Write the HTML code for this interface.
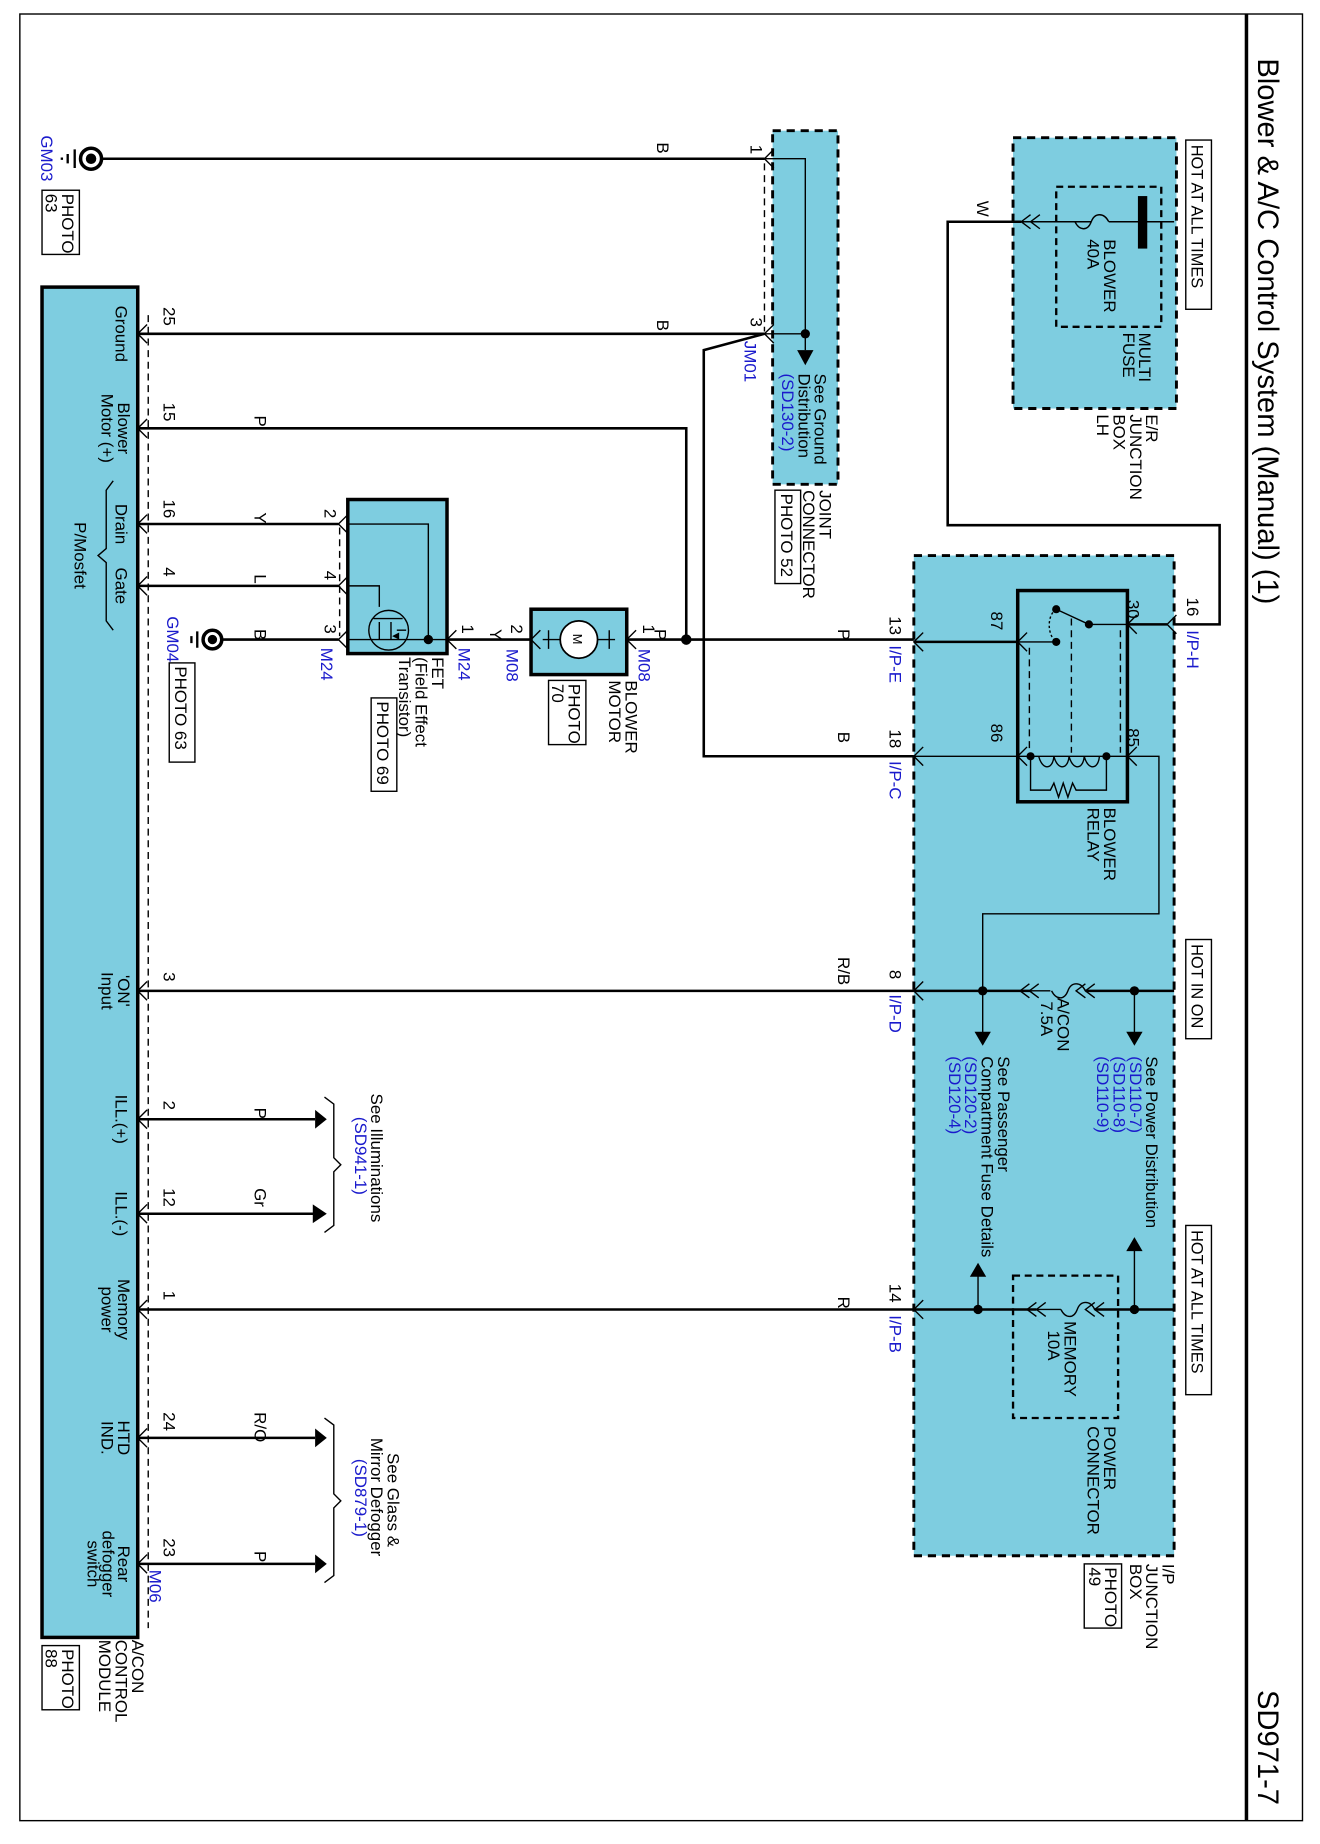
<!DOCTYPE html>
<html><head><meta charset="utf-8"><style>
html,body{margin:0;padding:0;background:#fff;}
svg{display:block;}
text{font-family:"Liberation Sans",sans-serif;font-size:14.5px;fill:#000;}
.b{fill:#1a1acc;}
.w{stroke:#000;stroke-width:2.2;fill:none;}
.t{stroke:#000;stroke-width:1.2;fill:none;}
.d{stroke:#000;stroke-width:1.2;fill:none;stroke-dasharray:6,4;}
.db{stroke:#000;stroke-width:2.5;fill:#7ecde0;stroke-dasharray:7,5;}
.box{stroke:#000;stroke-width:3;fill:#7ecde0;}
</style></head><body>
<svg width="1320" height="1844" viewBox="0 0 1131 1580" xmlns="http://www.w3.org/2000/svg">
<rect x="17" y="12" width="1099" height="1548" fill="none" stroke="#000" stroke-width="1.2"/>
<line x1="1068" y1="12" x2="1068" y2="1560" stroke="#000" stroke-width="3"/>
<text transform="translate(1078,50) rotate(90)" style="font-size:25px">Blower &amp; A/C Control System (Manual) (1)</text>
<text transform="translate(1078,1448) rotate(90)" style="font-size:25px">SD971-7</text>

<!-- E/R junction box -->
<rect class="db" x="868" y="118" width="140" height="232"/>
<rect x="905" y="160" width="90" height="120" fill="none" stroke="#000" stroke-width="2" stroke-dasharray="6,4"/>
<rect x="975" y="168" width="8" height="45" fill="#000"/>
<path class="t" d="M1006,190 H950 M935,190 H875"/>
<path class="t" d="M950,190 c-4,-8 -12,-8 -15,0 c-3,8 -10,8 -14,0"/>
<path class="t" d="M883,184 L875,190 L883,196 M891,184 L883,190 L891,196"/>
<path class="w" d="M875,190 H812 V450 H1045 V535 H1000"/>
<text transform="translate(837,172) rotate(90)">W</text>
<text transform="translate(946,205) rotate(90)">BLOWER</text>
<text transform="translate(932,205) rotate(90)">40A</text>
<text transform="translate(976,285) rotate(90)">MULTI</text>
<text transform="translate(962,285) rotate(90)">FUSE</text>
<text transform="translate(982,355) rotate(90)">E/R</text>
<text transform="translate(968,355) rotate(90)">JUNCTION</text>
<text transform="translate(954,355) rotate(90)">BOX</text>
<text transform="translate(940,355) rotate(90)">LH</text>
<rect x="1016" y="120" width="22" height="145" fill="#fff" stroke="#000" stroke-width="1.2"/>
<text transform="translate(1021,124) rotate(90)" style="font-size:14px">HOT AT ALL TIMES</text>

<!-- I/P junction box -->
<rect class="db" x="783" y="476" width="223" height="857"/>
<rect x="872" y="506" width="94" height="181" fill="none" stroke="#000" stroke-width="3"/>
<path class="w" d="M1000,535 H966"/>
<path class="t" d="M966,535 H933 L905,522 M872,550 H905"/>
<circle cx="933" cy="535" r="3.5"/><circle cx="905" cy="522" r="3.5"/><circle cx="905" cy="550" r="3.5"/>
<path class="t" d="M905,522 c-8,5 -8,22 0,28" stroke-dasharray="2,2"/>
<path class="d" d="M918,530 V645 M960,540 V645 M882,555 V645"/>
<path class="t" d="M872,648 H966 M883,648 V677 H900 l3,-6 4,12 4,-12 4,12 4,-12 3,6 H948 V648"/>
<path class="t" d="M890,648 c3,12 12,12 13,0 c3,12 12,12 13,0 c3,12 12,12 13,0 c3,12 12,12 13,0"/>
<circle cx="883" cy="648" r="3.5"/><circle cx="948" cy="648" r="3.5"/>
<path class="t" d="M966,648 H993 V783 H842 V849"/>
<text transform="translate(966,514) rotate(90)">30</text>
<text transform="translate(849,524) rotate(90)">87</text>
<text transform="translate(849,620) rotate(90)">86</text>
<text transform="translate(966,624) rotate(90)">85</text>
<text transform="translate(946,692) rotate(90)">BLOWER</text>
<text transform="translate(932,692) rotate(90)">RELAY</text>
<text transform="translate(1017,512) rotate(90)">16</text>
<text class="b" transform="translate(1017,540) rotate(90)">I/P-H</text>
<path class="t" d="M1008,527 L1000,535 L1008,543 M974,527 L966,535 L974,543 M880,542 L872,550 L880,558 M880,640 L872,648 L880,656 M974,640 L966,648 L974,656"/>
<path class="t" d="M791,542 L783,550 L791,558 M791,640 L783,648 L791,656 M791,841 L783,849 L791,857 M791,1114 L783,1122 L791,1130"/>
<path class="w" d="M783,550 H872"/>
<path class="t" d="M783,648 H872"/>
<text transform="translate(762,528) rotate(90)">13</text><text class="b" transform="translate(762,553) rotate(90)">I/P-E</text>
<text transform="translate(762,625) rotate(90)">18</text><text class="b" transform="translate(762,652) rotate(90)">I/P-C</text>
<text transform="translate(762,831) rotate(90)">8</text><text class="b" transform="translate(762,852) rotate(90)">I/P-D</text>
<text transform="translate(762,1100) rotate(90)">14</text><text class="b" transform="translate(762,1127) rotate(90)">I/P-B</text>

<!-- A/CON fuse row -->
<path class="w" d="M1006,849 H930 M883,849 H783"/>
<path class="t" d="M930,849 c-4,-8 -12,-8 -15,0 c-3,8 -10,8 -14,0 M900,849 H883"/>
<path class="t" d="M938,843 L930,849 L938,855 M930,843 L922,849 L930,855 M890,843 L882,849 L890,855 M882,843 L874,849 L882,855"/>
<circle cx="972" cy="849" r="4"/><circle cx="842" cy="849" r="4"/>
<path class="t" d="M972,849 V885 M842,849 V885"/>
<path d="M965,884 L979,884 L972,896 Z M835,884 L849,884 L842,896 Z"/>
<text transform="translate(906,855) rotate(90)">A/CON</text>
<text transform="translate(892,858) rotate(90)">7.5A</text>
<rect x="1016" y="805" width="22" height="85" fill="#fff" stroke="#000" stroke-width="1.2"/>
<text transform="translate(1021,809) rotate(90)" style="font-size:14px">HOT IN ON</text>
<text transform="translate(982,905) rotate(90)">See Power Distribution</text>
<text class="b" transform="translate(968,905) rotate(90)">(SD110-7)</text>
<text class="b" transform="translate(954,905) rotate(90)">(SD110-8)</text>
<text class="b" transform="translate(940,905) rotate(90)">(SD110-9)</text>
<text transform="translate(855,905) rotate(90)">See Passenger</text>
<text transform="translate(841,905) rotate(90)">Compartment Fuse Details</text>
<text class="b" transform="translate(827,905) rotate(90)">(SD120-2)</text>
<text class="b" transform="translate(813,905) rotate(90)">(SD120-4)</text>

<!-- Memory fuse row -->
<rect x="868" y="1093" width="90" height="122" fill="none" stroke="#000" stroke-width="2" stroke-dasharray="6,4"/>
<path class="w" d="M1006,1122 H938 M888,1122 H783"/>
<path class="t" d="M938,1122 c-4,-8 -12,-8 -15,0 c-3,8 -10,8 -14,0 M909,1122 H888"/>
<path class="t" d="M946,1116 L938,1122 L946,1128 M938,1116 L930,1122 L938,1128 M896,1116 L888,1122 L896,1128 M888,1116 L880,1122 L888,1128"/>
<circle cx="972" cy="1122" r="4"/><circle cx="838" cy="1122" r="4"/>
<path class="t" d="M972,1122 V1070 M838,1122 V1092"/>
<path d="M965,1072 L979,1072 L972,1060 Z M831,1094 L845,1094 L838,1082 Z"/>
<text transform="translate(912,1132) rotate(90)">MEMORY</text>
<text transform="translate(898,1140) rotate(90)">10A</text>
<rect x="1016" y="1050" width="22" height="145" fill="#fff" stroke="#000" stroke-width="1.2"/>
<text transform="translate(1021,1054) rotate(90)" style="font-size:14px">HOT AT ALL TIMES</text>
<text transform="translate(946,1222) rotate(90)">POWER</text>
<text transform="translate(932,1222) rotate(90)">CONNECTOR</text>
<text transform="translate(996,1340) rotate(90)">I/P</text>
<text transform="translate(982,1340) rotate(90)">JUNCTION</text>
<text transform="translate(968,1340) rotate(90)">BOX</text>
<rect x="929" y="1340" width="32" height="55" fill="#fff" stroke="#000" stroke-width="1.2"/>
<text transform="translate(947,1343) rotate(90)">PHOTO</text>
<text transform="translate(933,1343) rotate(90)">49</text>

<!-- Joint connector -->
<rect class="db" x="662" y="112" width="56" height="303"/>
<path class="t" d="M655,136 H690 V300 M655,286 H690"/>
<path d="M683,300 L697,300 L690,313 Z"/>
<circle cx="690" cy="286" r="4"/>
<path class="d" d="M655,140 V284"/>
<path class="t" d="M663,128 L655,136 L663,144 M663,278 L655,286 L663,294"/>
<text transform="translate(643,124) rotate(90)">1</text>
<text transform="translate(643,272) rotate(90)">3</text>
<text class="b" transform="translate(638,292) rotate(90)">JM01</text>
<text transform="translate(698,320) rotate(90)">See Ground</text>
<text transform="translate(684,320) rotate(90)">Distribution</text>
<text class="b" transform="translate(670,320) rotate(90)">(SD130-2)</text>
<text transform="translate(702,420) rotate(90)">JOINT</text>
<text transform="translate(688,420) rotate(90)">CONNECTOR</text>
<rect x="664" y="420" width="22" height="80" fill="#fff" stroke="#000" stroke-width="1.2"/>
<text transform="translate(669,423) rotate(90)">PHOTO 52</text>

<!-- GM03 -->
<path class="w" d="M88,136 H655"/>
<circle cx="78" cy="136" r="9" fill="#fff" stroke="#000" stroke-width="3"/><circle cx="78" cy="136" r="4.5"/>
<path stroke="#000" stroke-width="2" d="M64,128 V144 M58,132 V140 M53,135 V137"/>
<text transform="translate(563,122) rotate(90)">B</text>
<text class="b" transform="translate(35,116) rotate(90)">GM03</text>
<rect x="36" y="163" width="32" height="55" fill="#fff" stroke="#000" stroke-width="1.2"/>
<text transform="translate(53,166) rotate(90)">PHOTO</text>
<text transform="translate(39,166) rotate(90)">63</text>

<!-- Module -->
<rect class="box" x="36" y="246" width="82" height="1157"/>
<path class="d" d="M127,270 V1395"/>
<path class="t" d="M126,278 L118,286 L126,294 M126,359 L118,367 L126,375 M126,441 L118,449 L126,457 M126,494 L118,502 L126,510 M126,841 L118,849 L126,857 M126,951 L118,959 L126,967 M126,1032 L118,1040 L126,1048 M126,1114 L118,1122 L126,1130 M126,1224 L118,1232 L126,1240 M126,1332 L118,1340 L126,1348"/>
<path class="w" d="M118,286 H655 L603,300 V648 H783"/>
<path class="w" d="M118,367 H588 V550"/>
<path class="w" d="M118,449 H290 M118,502 H290 M118,849 H783 M118,959 H270 M118,1040 H270 M118,1122 H783 M118,1232 H270 M118,1340 H270"/>
<path d="M270,951 L270,967 L280,959 Z M270,1224 L270,1240 L280,1232 Z M270,1332 L270,1348 L280,1340 Z M268,1032 L268,1048 L280,1040 Z"/>
<text transform="translate(140,263) rotate(90)">25</text>
<text transform="translate(140,345) rotate(90)">15</text>
<text transform="translate(140,428) rotate(90)">16</text>
<text transform="translate(140,486) rotate(90)">4</text>
<text transform="translate(140,833) rotate(90)">3</text>
<text transform="translate(140,943) rotate(90)">2</text>
<text transform="translate(140,1018) rotate(90)">12</text>
<text transform="translate(140,1106) rotate(90)">1</text>
<text transform="translate(140,1210) rotate(90)">24</text>
<text transform="translate(140,1318) rotate(90)">23</text>
<text class="b" transform="translate(128,1345) rotate(90)">M06</text>
<text transform="translate(563,274) rotate(90)">B</text>
<text transform="translate(218,356) rotate(90)">P</text>
<text transform="translate(218,439) rotate(90)">Y</text>
<text transform="translate(218,492) rotate(90)">L</text>
<text transform="translate(218,539) rotate(90)">B</text>
<text transform="translate(718,539) rotate(90)">P</text>
<text transform="translate(718,627) rotate(90)">B</text>
<text transform="translate(718,820) rotate(90)">R/B</text>
<text transform="translate(218,949) rotate(90)">P</text>
<text transform="translate(218,1018) rotate(90)">Gr</text>
<text transform="translate(718,1111) rotate(90)">R</text>
<text transform="translate(218,1210) rotate(90)">R/O</text>
<text transform="translate(218,1329) rotate(90)">P</text>
<g text-anchor="middle">
<text transform="translate(99,286) rotate(90)">Ground</text>
<text transform="translate(101,367) rotate(90)">Blower</text>
<text transform="translate(87,367) rotate(90)">Motor (+)</text>
<text transform="translate(99,449) rotate(90)">Drain</text>
<text transform="translate(99,502) rotate(90)">Gate</text>
<text transform="translate(64,476) rotate(90)">P/Mosfet</text>
<text transform="translate(101,849) rotate(90)">'ON'</text>
<text transform="translate(87,849) rotate(90)">Input</text>
<text transform="translate(99,959) rotate(90)">ILL.(+)</text>
<text transform="translate(99,1040) rotate(90)">ILL.(-)</text>
<text transform="translate(101,1122) rotate(90)">Memory</text>
<text transform="translate(87,1122) rotate(90)">power</text>
<text transform="translate(101,1232) rotate(90)">HTD</text>
<text transform="translate(87,1232) rotate(90)">IND.</text>
<text transform="translate(101,1340) rotate(90)">Rear</text>
<text transform="translate(88,1340) rotate(90)">defogger</text>
<text transform="translate(75,1340) rotate(90)">switch</text>
</g>
<path class="t" d="M97,412 L91,420 V470 L84,476 L91,482 V532 L97,540"/>
<text transform="translate(113,1405) rotate(90)">A/CON</text>
<text transform="translate(99,1405) rotate(90)">CONTROL</text>
<text transform="translate(85,1405) rotate(90)">MODULE</text>
<rect x="36" y="1410" width="32" height="55" fill="#fff" stroke="#000" stroke-width="1.2"/>
<text transform="translate(53,1413) rotate(90)">PHOTO</text>
<text transform="translate(39,1413) rotate(90)">88</text>

<!-- refs -->
<path class="t" d="M278,940 L286,946 V992 L292,998 L286,1004 V1050 L278,1056"/>
<text transform="translate(318,937) rotate(90)">See Illuminations</text>
<text class="b" transform="translate(304,957) rotate(90)">(SD941-1)</text>
<path class="t" d="M278,1215 L286,1221 V1280 L292,1286 L286,1292 V1350 L278,1356"/>
<text transform="translate(332,1245) rotate(90)">See Glass &amp;</text>
<text transform="translate(318,1232) rotate(90)">Mirror Defogger</text>
<text class="b" transform="translate(304,1250) rotate(90)">(SD879-1)</text>

<!-- FET -->
<rect class="box" x="298" y="428" width="85" height="132"/>
<path class="d" d="M291,452 V545"/>
<path class="t" d="M298,441 L290,449 L298,457 M298,494 L290,502 L298,510 M298,540 L290,548 L298,556 M391,540 L383,548 L391,556"/>
<path class="t" d="M298,449 H367 V548 M298,502 H325 V520 M298,548 H383"/>
<circle cx="367" cy="548" r="4"/>
<circle cx="333" cy="540" r="17" fill="none" stroke="#000" stroke-width="1.2"/>
<path class="t" d="M320,530 H345 M325,533 V548 M335,533 V548 M340,540 H348"/>
<path d="M336,545 l6,-3 v6 z"/>
<text transform="translate(278,436) rotate(90)">2</text>
<text transform="translate(278,489) rotate(90)">4</text>
<text transform="translate(278,535) rotate(90)">3</text>
<text class="b" transform="translate(275,555) rotate(90)">M24</text>
<text transform="translate(396,535) rotate(90)">1</text>
<text class="b" transform="translate(393,555) rotate(90)">M24</text>
<text transform="translate(370,563) rotate(90)">FET</text>
<text transform="translate(356,563) rotate(90)">(Field Effect</text>
<text transform="translate(342,563) rotate(90)">Transistor)</text>
<rect x="318" y="598" width="22" height="80" fill="#fff" stroke="#000" stroke-width="1.2"/>
<text transform="translate(323,601) rotate(90)">PHOTO 69</text>

<!-- GM04 -->
<path class="w" d="M190,548 H290"/>
<circle cx="182" cy="548" r="8" fill="#fff" stroke="#000" stroke-width="3"/><circle cx="182" cy="548" r="4"/>
<path stroke="#000" stroke-width="2" d="M169,541 V555 M164,545 V551"/>
<text class="b" transform="translate(143,528) rotate(90)">GM04</text>
<rect x="145" y="568" width="22" height="85" fill="#fff" stroke="#000" stroke-width="1.2"/>
<text transform="translate(150,571) rotate(90)">PHOTO 63</text>

<!-- Motor -->
<path class="w" d="M383,548 H455 M537,548 H783"/>
<circle cx="588" cy="548" r="4.5"/>
<rect class="box" x="455" y="522" width="82" height="56"/>
<circle cx="496" cy="548" r="16" fill="#fff" stroke="#000" stroke-width="1.5"/>
<text transform="translate(491,543) rotate(90)" style="font-size:11px">M</text>
<path class="t" d="M465,548 H480 M512,548 H527 M470,540 V556 M522,540 V556"/>
<path class="t" d="M463,540 L455,548 L463,556 M545,540 L537,548 L545,556"/>
<text transform="translate(438,535) rotate(90)">2</text><text class="b" transform="translate(434,556) rotate(90)">M08</text>
<text transform="translate(420,539) rotate(90)">Y</text>
<text transform="translate(551,535) rotate(90)">1</text><text class="b" transform="translate(547,556) rotate(90)">M08</text>
<text transform="translate(561,539) rotate(90)">P</text>
<text transform="translate(536,583) rotate(90)">BLOWER</text>
<text transform="translate(522,583) rotate(90)">MOTOR</text>
<rect x="470" y="583" width="32" height="55" fill="#fff" stroke="#000" stroke-width="1.2"/>
<text transform="translate(487,586) rotate(90)">PHOTO</text>
<text transform="translate(473,586) rotate(90)">70</text>
</svg>
</body></html>
